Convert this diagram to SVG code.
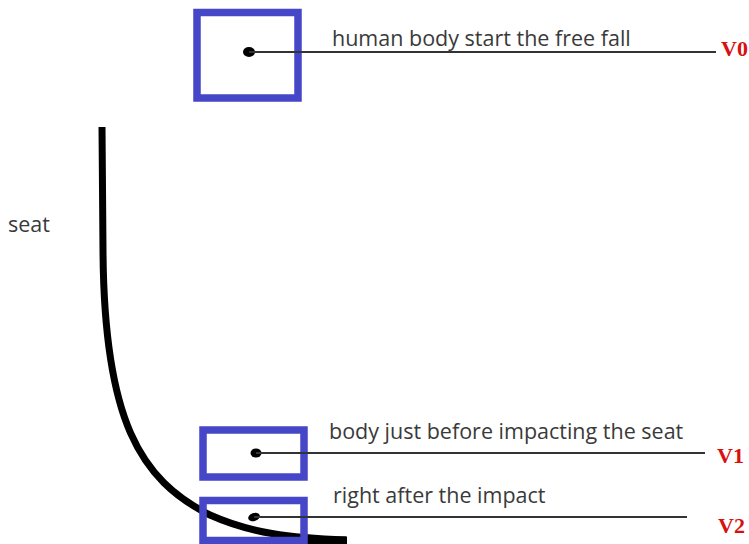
<svg xmlns="http://www.w3.org/2000/svg" width="749" height="544" viewBox="0 0 749 544">
<style>
.box{fill:none;stroke:#4646c8;stroke-width:7.5}
.lbl{font-family:"Open Sans","Liberation Sans",sans-serif;font-size:21.5px;fill:#3a3a3a}
.v{font-family:"Liberation Serif",serif;font-weight:bold;font-size:22px;fill:#d81010}
.lead{stroke:#333;stroke-width:1.8;fill:none}
.dot{fill:#000}
</style>
<rect width="749" height="544" fill="#fff"/>
<g id="seat">
<path d="M102,127 L103,250 C104,420 140,480 210,515 C250,533 290,538 346,540" fill="none" stroke="#000" stroke-width="7"/>
<path d="M300,540.5 L347,540.5" stroke="#000" stroke-width="8"/>
<text class="lbl" x="8" y="232">seat</text>
</g>
<g id="v0">
<rect class="box" x="197" y="12.5" width="101" height="85.5"/>
<ellipse class="dot" cx="249" cy="52" rx="6" ry="5"/>
<text class="lbl" x="332" y="46">human body start the free fall</text>
<text class="v" x="721" y="56">V0</text>
</g>
<g id="v1">
<rect class="box" x="203" y="430" width="101" height="47"/>
<ellipse class="dot" cx="256" cy="453" rx="5.5" ry="4.5"/>
<text class="lbl" x="329" y="439">body just before impacting the seat</text>
<text class="v" x="717" y="463">V1</text>
</g>
<g id="v2">
<rect class="box" x="203" y="500.5" width="101" height="40"/>
<ellipse class="dot" cx="254" cy="517" rx="6" ry="4" transform="rotate(-20 254 517)"/>
<text class="lbl" x="333" y="503">right after the impact</text>
<text class="v" x="718" y="533">V2</text>
</g>
<g id="connectors">
<path class="lead" d="M249,52 L716,52"/>
<path class="lead" d="M256,453 L705,453"/>
<path class="lead" d="M254,517 L687,517"/>
</g>
</svg>
